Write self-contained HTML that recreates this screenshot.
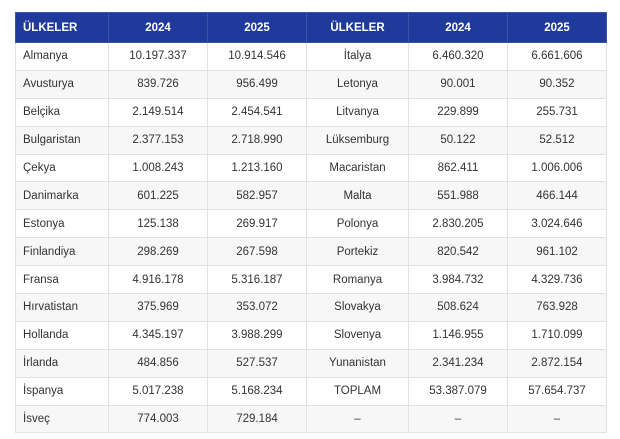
<!DOCTYPE html>
<html><head><meta charset="utf-8"><style>
body{margin:0;background:#fff;width:620px;height:439px;overflow:hidden;font-family:"Liberation Sans","DejaVu Sans",sans-serif;}
table{position:absolute;left:15px;top:12px;border-collapse:collapse;table-layout:fixed;width:591px;}
td,th{border:1px solid #e2e2e2;height:26.9px;padding:0;font-size:11.5px;color:#333;text-align:center;}
th{background:#1f3a9a;color:#fff;font-weight:bold;font-size:11.5px;height:29px;border-color:#3a52a8;}
th:first-child,td:first-child{text-align:left;padding-left:7px;}
tr:nth-child(odd) td{background:#f7f7f7;}
</style></head><body>
<table>
<colgroup><col style="width:93px"><col style="width:99px"><col style="width:99px"><col style="width:102px"><col style="width:99px"><col style="width:99px"></colgroup>
<tr><th>ÜLKELER</th><th>2024</th><th>2025</th><th>ÜLKELER</th><th>2024</th><th>2025</th></tr>
<tr><td>Almanya</td><td>10.197.337</td><td>10.914.546</td><td>İtalya</td><td>6.460.320</td><td>6.661.606</td></tr>
<tr><td>Avusturya</td><td>839.726</td><td>956.499</td><td>Letonya</td><td>90.001</td><td>90.352</td></tr>
<tr><td>Belçika</td><td>2.149.514</td><td>2.454.541</td><td>Litvanya</td><td>229.899</td><td>255.731</td></tr>
<tr><td>Bulgaristan</td><td>2.377.153</td><td>2.718.990</td><td>Lüksemburg</td><td>50.122</td><td>52.512</td></tr>
<tr><td>Çekya</td><td>1.008.243</td><td>1.213.160</td><td>Macaristan</td><td>862.411</td><td>1.006.006</td></tr>
<tr><td>Danimarka</td><td>601.225</td><td>582.957</td><td>Malta</td><td>551.988</td><td>466.144</td></tr>
<tr><td>Estonya</td><td>125.138</td><td>269.917</td><td>Polonya</td><td>2.830.205</td><td>3.024.646</td></tr>
<tr><td>Finlandiya</td><td>298.269</td><td>267.598</td><td>Portekiz</td><td>820.542</td><td>961.102</td></tr>
<tr><td>Fransa</td><td>4.916.178</td><td>5.316.187</td><td>Romanya</td><td>3.984.732</td><td>4.329.736</td></tr>
<tr><td>Hırvatistan</td><td>375.969</td><td>353.072</td><td>Slovakya</td><td>508.624</td><td>763.928</td></tr>
<tr><td>Hollanda</td><td>4.345.197</td><td>3.988.299</td><td>Slovenya</td><td>1.146.955</td><td>1.710.099</td></tr>
<tr><td>İrlanda</td><td>484.856</td><td>527.537</td><td>Yunanistan</td><td>2.341.234</td><td>2.872.154</td></tr>
<tr><td>İspanya</td><td>5.017.238</td><td>5.168.234</td><td>TOPLAM</td><td>53.387.079</td><td>57.654.737</td></tr>
<tr><td>İsveç</td><td>774.003</td><td>729.184</td><td>–</td><td>–</td><td>–</td></tr>
</table>
</body></html>
